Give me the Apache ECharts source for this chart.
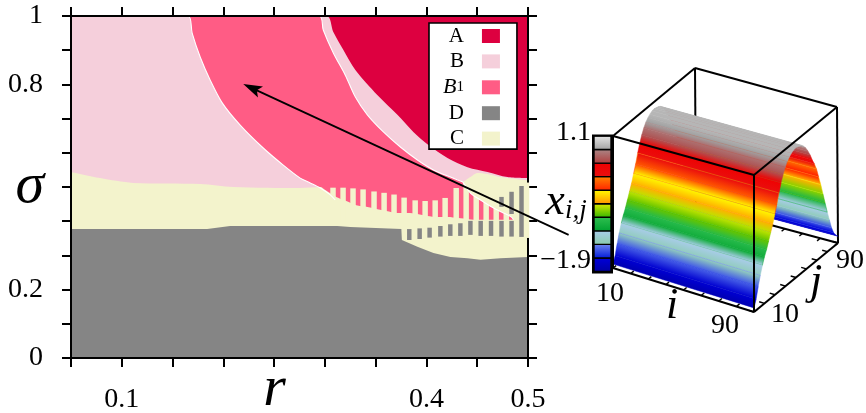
<!DOCTYPE html>
<html>
<head>
<meta charset="utf-8">
<style>
  html, body { margin: 0; padding: 0; background: #fff; }
  #chart { width: 866px; height: 413px; }
</style>
<script src="https://cdn.jsdelivr.net/npm/echarts@6/dist/echarts.min.js"></script>
</head>
<body>
<div id="chart"></div>
<script>
// == Phase diagram data (sigma against r) ====================================

const rTicks = [0.1, 0.4, 0.5]
const sigmaTicks = [0, 0.2, 0.8, 1]

const abR = [0.05, 0.3014, 0.3083, 0.3181, 0.33, 0.3516, 0.3714, 0.3871, 0.4019, 0.4207, 0.4404, 0.4601, 0.4798, 0.5]
const abSigma = [1, 1, 0.953, 0.901, 0.842, 0.769, 0.711, 0.661, 0.623, 0.585, 0.558, 0.544, 0.529, 0.526]

const b1TopR = [0.05, 0.2945, 0.2984, 0.3083, 0.3201, 0.33, 0.3418, 0.3576, 0.3743, 0.3911, 0.4069, 0.4236, 0.4354, 0.4364, 0.4433, 0.4532, 0.463, 0.4739, 0.4837, 0.4857]
const b1TopSigma = [1, 1, 0.959, 0.892, 0.827, 0.763, 0.711, 0.661, 0.617, 0.579, 0.55, 0.529, 0.515, 0.512, 0.482, 0.462, 0.444, 0.427, 0.412, 0.404]

const bLeftR = [0.05, 0.1653, 0.1693, 0.1772, 0.187, 0.1989, 0.2166, 0.2393, 0.259, 0.2757, 0.2856, 0.2955, 0.3053, 0.3102]
const bLeftSigma = [1, 1, 0.95, 0.88, 0.813, 0.746, 0.681, 0.614, 0.564, 0.526, 0.512, 0.497, 0.477, 0.462]

const cTopR = [0.05, 0.0786, 0.1111, 0.1772, 0.2097, 0.2757, 0.2955, 0.3004, 0.3112, 0.3211, 0.3309, 0.3408, 0.3507, 0.3605, 0.3714, 0.3812, 0.3911, 0.4009, 0.4108, 0.4207, 0.4315, 0.4414, 0.4512, 0.4719, 0.4857, 0.5]
const cTopSigma = [0.544, 0.526, 0.512, 0.509, 0.5, 0.497, 0.5, 0.491, 0.471, 0.459, 0.447, 0.442, 0.436, 0.43, 0.424, 0.424, 0.421, 0.415, 0.412, 0.412, 0.409, 0.406, 0.404, 0.404, 0.404, 0.404]

const cBlobR = [0.4364, 0.4433, 0.4502, 0.4601, 0.4729, 0.4897, 0.5]
const cBlobSigma = [0.515, 0.529, 0.541, 0.538, 0.529, 0.523, 0.52]

const dTopR = [0.05, 0.1841, 0.2067, 0.3122, 0.325, 0.3753, 0.3758, 0.3911, 0.4069, 0.4236, 0.4404, 0.4532, 0.4729, 0.5]
const dTopSigma = [0.377, 0.377, 0.386, 0.386, 0.383, 0.377, 0.345, 0.325, 0.307, 0.295, 0.292, 0.287, 0.292, 0.295]

// striped coexistence zone
const creamStripeR = [0.3053, 0.3152, 0.325, 0.3349, 0.3457, 0.3556, 0.3654, 0.3753, 0.3862, 0.396, 0.4059, 0.4157, 0.4266, 0.4364, 0.4463, 0.4561, 0.466, 0.4759, 0.4857]
const creamStripeTop = [0.498, 0.498, 0.496, 0.493, 0.487, 0.483, 0.478, 0.469, 0.461, 0.459, 0.461, 0.468, 0.497, 0.512, 0.515, 0.515, 0.515, 0.515, 0.515]
const creamStripeBottom = 0.398

const grayStripeR = [0.3809, 0.3911, 0.4009, 0.4115, 0.4213, 0.4312, 0.4411, 0.4512, 0.4614, 0.4717, 0.4816, 0.4717, 0.4816, 0.4914]
const grayStripeTop = [0.377, 0.379, 0.381, 0.386, 0.391, 0.394, 0.401, 0.401, 0.401, 0.401, 0.401, 0.471, 0.486, 0.503]
const grayStripeBottom = [0.345, 0.348, 0.352, 0.355, 0.357, 0.357, 0.36, 0.357, 0.357, 0.355, 0.355, 0.442, 0.421, 0.354]

// cream runs over the right frame line here
const frameGapR = [0.4988]
const frameGapTop = [0.513]
const frameGapBottom = [0.351]

const arrowR = [0.54, 0.2196]
const arrowSigma = [0.36, 0.801]

// == Surface data (x_ij against j, flat along i) =============================

const surfaceJ = [10, 12, 14, 16, 18, 20, 22, 24, 26, 28, 30, 32, 34, 36, 38, 40, 42, 44, 46, 48, 50, 52, 54, 56, 58, 60, 62, 64, 66, 68, 70, 72, 74, 76, 78, 80, 82, 84, 86, 88, 90]
const surfaceX = [-1.81, -1.66, -1.42, -1.21, -1.03, -0.88, -0.76, -0.61, -0.46, -0.31, -0.13, 0.05, 0.26, 0.44, 0.59, 0.71, 0.8, 0.86, 0.905, 0.935, 0.95, 0.935, 0.92, 0.89, 0.83, 0.755, 0.65, 0.53, 0.38, 0.26, 0.11, -0.1, -0.31, -0.55, -0.79, -1.03, -1.24, -1.45, -1.6, -1.69, -1.75]
const cubeTicks = [10, 20, 30, 40, 50, 60, 70, 80, 90]

// colour bar segments, bottom to top, each with its bottom and top colour
const barBottom = ['#0000a0', '#0018d8', '#88ccaa', '#00a030', '#30b400', '#ff9000', '#ff2000', '#e81010', '#b03c3c', '#a0a0a0']
const barTop = ['#0000dd', '#7088f0', '#aaccee', '#30c050', '#e0ee00', '#ffff00', '#ff8800', '#f00000', '#aa8888', '#e8e8e8']

// == Layout and colours ======================================================

const COLORS = {A: '#dd0040', B: '#f5cfdb', B1: '#ff5c85', D: '#858585', C: '#f3f3cc'}
const SERIF = '"Liberation Serif", serif'
const CREAM_WIDTH = 0.0054
const GRAY_WIDTH = 0.0044

// screen position of the cube corners [i, j, x] -> pixel
const CUBE = {
  low: [[[613, 268], [696, 205]], [[754, 312], [838, 243]]],
  high: [[[613, 136], [695, 68]], [[754, 175], [837, 107]]]
}

function zip (xs, ys) {
  return xs.map((x, n) => [x, ys[n]])
}

function mix (p, q, t) {
  return [p[0] + (q[0] - p[0]) * t, p[1] + (q[1] - p[1]) * t]
}

function project (i, j, x) {
  const a = (i - 10) / 80
  const b = (j - 10) / 80
  const c = (x + 1.9) / 3
  const low = mix(mix(CUBE.low[0][0], CUBE.low[0][1], b), mix(CUBE.low[1][0], CUBE.low[1][1], b), a)
  const high = mix(mix(CUBE.high[0][0], CUBE.high[0][1], b), mix(CUBE.high[1][0], CUBE.high[1][1], b), a)
  return mix(low, high, c)
}

function rgb (hex) {
  return [1, 3, 5].map(n => parseInt(hex.substr(n, 2), 16))
}

// surface never gets to the light end of the bar
function paletteColor (x) {
  const t = Math.min(9.3, Math.max(0, (x + 1.9) / 3) * barTop.length)
  const seg = Math.floor(t)
  const lo = rgb(barBottom[seg])
  const hi = rgb(barTop[seg])
  const f = t - seg
  return 'rgb(' + lo.map((v, n) => Math.round(v + (hi[n] - v) * f)).join(',') + ')'
}

function areaSeries (name, xs, ys, color, edge, smooth) {
  return {
    type: 'line',
    name,
    data: zip(xs, ys),
    showSymbol: false,
    symbol: 'none',
    smooth: smooth === false ? false : 0.3,
    smoothMonotone: 'none',
    itemStyle: {color},
    areaStyle: {color, opacity: 1, origin: 'start'},
    lineStyle: edge ? {color: '#fff', width: 1.1} : {width: 0},
    silent: true,
    z: 2
  }
}

function stripeSeries (name, rs, tops, bottoms, width, color, z) {
  return {
    type: 'custom',
    name,
    silent: true,
    z: z || 2,
    data: rs.map((r, n) => [r, tops[n], Array.isArray(bottoms) ? bottoms[n] : bottoms]),
    encode: {x: 0, y: [1, 2]},
    renderItem (params, api) {
      const p = api.coord([api.value(0), api.value(1)])
      const q = api.coord([api.value(0) + width, api.value(2)])
      return {type: 'rect', shape: {x: p[0], y: p[1], width: q[0] - p[0], height: q[1] - p[1]}, style: {fill: color}}
    }
  }
}

// arrow, runs past the right edge of the plot
const arrowSeries = {
  type: 'custom',
  silent: true,
  z: 6,
  data: [[arrowR[0], arrowSigma[0], arrowR[1], arrowSigma[1]]],
  encode: {x: [0, 2], y: [1, 3]},
  renderItem (params, api) {
    const tail = api.coord([api.value(0), api.value(1)])
    const tip = api.coord([api.value(2), api.value(3)])
    const len = Math.hypot(tail[0] - tip[0], tail[1] - tip[1])
    const ux = (tail[0] - tip[0]) / len
    const uy = (tail[1] - tip[1]) / len
    return {
      type: 'group',
      children: [
        {type: 'line', shape: {x1: tail[0], y1: tail[1], x2: tip[0] + ux * 12, y2: tip[1] + uy * 12}, style: {stroke: '#000', lineWidth: 1.8}},
        {type: 'polygon', shape: {points: [
          tip,
          [tip[0] + ux * 19 - uy * 6, tip[1] + uy * 19 + ux * 6],
          [tip[0] + ux * 15, tip[1] + uy * 15],
          [tip[0] + ux * 19 + uy * 6, tip[1] + uy * 19 - ux * 6]
        ]}, style: {fill: '#000'}}
      ]
    }
  }
}

// == 3D inset ================================================================

function cubeEdge (api, a, b, width) {
  const p = api.coord(a)
  const q = api.coord(b)
  return {type: 'line', shape: {x1: p[0], y1: p[1], x2: q[0], y2: q[1]}, style: {stroke: '#000', lineWidth: width || 2}}
}

function label (api, pos, text, size, italic, align) {
  const p = api.coord(pos)
  return {
    type: 'text',
    z2: 20,
    style: {
      text, x: p[0], y: p[1], fill: '#000',
      font: (italic ? 'italic ' : '') + size + 'px ' + SERIF,
      textAlign: align || 'center', textVerticalAlign: 'middle'
    }
  }
}

// one surface strip, shaded across its width
function surfaceStrip (api, j0, x0, j1, x1) {
  const a = api.coord(project(10, j0, x0))
  const b = api.coord(project(90, j0, x0))
  const c = api.coord(project(90, j1, x1))
  const d = api.coord(project(10, j1, x1))
  const ex = b[0] - a[0]
  const ey = b[1] - a[1]
  const el = Math.hypot(ex, ey)
  const nx = -ey / el
  const ny = ex / el
  const depth = (d[0] - a[0]) * nx + (d[1] - a[1]) * ny
  const c0 = paletteColor(x0)
  const c1 = paletteColor(x1)
  return {
    type: 'polygon',
    shape: {points: [a, b, c, d]},
    style: {
      fill: new echarts.graphic.LinearGradient(a[0], a[1], a[0] + nx * depth, a[1] + ny * depth, [{offset: 0, color: c0}, {offset: 1, color: c1}], true),
      stroke: paletteColor((x0 + x1) / 2),
      lineWidth: 0.5
    }
  }
}

const insetSeries = {
  type: 'custom',
  silent: true,
  xAxisIndex: 2,
  yAxisIndex: 2,
  z: 5,
  data: surfaceJ.map((j, n) => [j, surfaceX[n]]),
  encode: {x: 0, y: 1},
  renderItem (params, api) {
    if (params.dataIndex !== 0) return null
    const children = []
    const edge = (a, b, width) => children.push(cubeEdge(api, project(...a), project(...b), width))

    // back of the box goes under the surface
    edge([10, 90, 1.1], [90, 90, 1.1])
    edge([10, 90, -1.9], [10, 90, 1.1])
    edge([90, 90, -1.9], [90, 90, 1.1])
    edge([10, 90, -1.9], [90, 90, -1.9])
    cubeTicks.forEach(t => {
      edge([t, 90, -1.9], [t, 87, -1.9], 1.5)
    })

    // surface strips, far side first
    for (let n = surfaceJ.length - 2; n >= 0; n--) {
      children.push(surfaceStrip(api, surfaceJ[n], surfaceX[n], surfaceJ[n + 1], surfaceX[n + 1]))
    }

    // front of the box
    edge([10, 10, 1.1], [90, 10, 1.1])
    edge([10, 10, 1.1], [10, 90, 1.1])
    edge([90, 10, 1.1], [90, 90, 1.1])
    edge([90, 10, -1.9], [90, 10, 1.1])
    edge([10, 10, -1.9], [90, 10, -1.9])
    edge([90, 10, -1.9], [90, 90, -1.9])
    cubeTicks.forEach(t => {
      edge([t, 10, -1.9], [t, 13, -1.9], 1.5)
      edge([90, t, -1.9], [87, t, -1.9], 1.5)
    })

    // colour bar, one gradient box per segment
    const barX = [594, 611]
    const segH = (271.5 - 136) / barTop.length
    barTop.forEach((top, n) => {
      const yBottom = 271.5 - n * segH
      const a = api.coord([barX[0], yBottom - segH])
      const b = api.coord([barX[1], yBottom])
      children.push({
        type: 'rect',
        shape: {x: a[0], y: a[1], width: b[0] - a[0], height: b[1] - a[1]},
        style: {
          fill: new echarts.graphic.LinearGradient(0, 0, 0, 1, [{offset: 0, color: top}, {offset: 1, color: barBottom[n]}]),
          stroke: '#000',
          lineWidth: 1.4
        }
      })
    })
    const c0 = api.coord([barX[0] - 1, 135.5])
    const c1 = api.coord([barX[1] + 1, 272.5])
    children.push({
      type: 'rect',
      shape: {x: c0[0], y: c0[1], width: c1[0] - c0[0], height: c1[1] - c0[1]},
      style: {fill: 'none', stroke: '#000', lineWidth: 2}
    })
    edge([10, 10, -1.9], [10, 10, 1.1])

    // labels
    children.push(label(api, [591, 133], '1.1', 28, false, 'right'))
    children.push(label(api, [591, 261], '\u22121.9', 28, false, 'right'))
    children.push(label(api, [610, 294], '10', 28))
    children.push(label(api, [725, 326], '90', 28))
    children.push(label(api, [785, 315], '10', 28))
    children.push(label(api, [850, 261], '90', 28))
    children.push(label(api, [672, 306], 'i', 44, true))
    children.push(label(api, [816, 282], 'j', 44, true))

    const xl = api.coord([566, 202])
    children.push({
      type: 'text',
      z2: 20,
      style: {
        text: '{x|x}{s|i,j}',
        x: xl[0],
        y: xl[1],
        textAlign: 'center',
        textVerticalAlign: 'middle',
        rich: {
          x: {font: 'italic 44px ' + SERIF, fill: '#000'},
          s: {font: 'italic 27px ' + SERIF, fill: '#000', verticalAlign: 'bottom', padding: [12, 0, 0, 0]}
        }
      }
    })

    return {type: 'group', children}
  }
}

// == Chart ===================================================================

function tickLabel (list) {
  return value => {
    const hit = list.find(v => Math.abs(v - value) < 1e-6)
    return hit === undefined ? '' : String(hit)
  }
}

const axisBase = {
  type: 'value',
  z: 3,
  axisLine: {show: true, onZero: false, lineStyle: {color: '#000', width: 2}},
  axisTick: {show: true, length: 9, lineStyle: {color: '#000', width: 2}},
  splitLine: {show: false}
}

const rAxis = {...axisBase, min: 0.05, max: 0.5, interval: 0.05}
const sigmaAxis = {...axisBase, min: 0, max: 1, interval: 0.1}
const labelStyle = {color: '#000', fontFamily: SERIF, fontSize: 28, showMinLabel: true, showMaxLabel: true}

const legendText = {padding: [0, 13, 0, 0], height: 20, lineHeight: 20, fontFamily: SERIF, fontSize: 21, color: '#000'}

const option = {
  animation: false,
  backgroundColor: '#fff',
  grid: [
    {left: 71, top: 16, width: 457, height: 342, outerBoundsMode: 'none'},
    {left: 590, top: 60, width: 260, height: 280, outerBoundsMode: 'none'}
  ],
  xAxis: [
    {
      ...rAxis,
      gridIndex: 0,
      position: 'bottom',
      axisLabel: {...labelStyle, margin: 28, formatter: tickLabel(rTicks)},
      name: 'r',
      nameLocation: 'middle',
      nameGap: 3,
      nameMoveOverlap: false,
      nameTextStyle: {fontFamily: SERIF, fontStyle: 'italic', fontSize: 58, color: '#000', padding: [0, 50, 0, 0]}
    },
    {...rAxis, gridIndex: 0, position: 'top', axisLabel: {show: false}},
    {type: 'value', gridIndex: 1, min: 590, max: 850, show: false}
  ],
  yAxis: [
    {
      ...sigmaAxis,
      gridIndex: 0,
      position: 'left',
      axisLabel: {...labelStyle, margin: 28, formatter: tickLabel(sigmaTicks)},
      name: '\u03c3',
      nameLocation: 'middle',
      nameGap: 27,
      nameRotate: 0,
      nameMoveOverlap: false,
      nameTextStyle: {fontFamily: SERIF, fontStyle: 'italic', fontSize: 58, color: '#000', padding: [0, 0, 30, 0]}
    },
    {...sigmaAxis, gridIndex: 0, position: 'right', axisLabel: {show: false}},
    {type: 'value', gridIndex: 1, min: 60, max: 340, inverse: true, show: false}
  ],
  legend: {
    left: 429,
    top: 23,
    orient: 'vertical',
    align: 'right',
    padding: [2.5, 17, 0, 14],
    itemGap: 4.4,
    itemWidth: 18,
    itemHeight: 14,
    backgroundColor: '#fff',
    borderColor: '#000',
    borderWidth: 1.6,
    selectedMode: false,
    icon: 'rect',
    formatter: name => (name === 'B1' ? '{b|B}{s|1}' : '{t|' + name + '}'),
    textStyle: {
      fontFamily: SERIF,
      fontSize: 21,
      color: '#000',
      rich: {
        t: legendText,
        b: {...legendText, padding: 0, fontStyle: 'italic', fontSize: 22},
        s: {...legendText, fontSize: 15, verticalAlign: 'bottom'}
      }
    },
    data: [
      {name: 'A', itemStyle: {color: COLORS.A, borderWidth: 0}},
      {name: 'B', itemStyle: {color: COLORS.B, borderWidth: 0}},
      {name: 'B1', itemStyle: {color: COLORS.B1, borderWidth: 0}},
      {name: 'D', itemStyle: {color: COLORS.D, borderWidth: 0}},
      {name: 'C', itemStyle: {color: COLORS.C, borderWidth: 0}}
    ]
  },
  series: [
    areaSeries('A', [0.05, 0.5], [1, 1], COLORS.A),
    areaSeries('B', abR, abSigma, COLORS.B),
    areaSeries('C', cBlobR, cBlobSigma, COLORS.C),
    areaSeries('B1', b1TopR, b1TopSigma, COLORS.B1, true),
    areaSeries('B', bLeftR, bLeftSigma, COLORS.B, true),
    areaSeries('C', cTopR, cTopSigma, COLORS.C),
    areaSeries('D', dTopR, dTopSigma, COLORS.D, false, false),
    stripeSeries('C', creamStripeR, creamStripeTop, creamStripeBottom, CREAM_WIDTH, COLORS.C),
    stripeSeries('D', grayStripeR, grayStripeTop, grayStripeBottom, GRAY_WIDTH, COLORS.D),
    stripeSeries('C', frameGapR, frameGapTop, frameGapBottom, 0.0024, COLORS.C, 4),
    arrowSeries,
    insetSeries
  ]
}

echarts.init(document.getElementById('chart')).setOption(option)
</script>
</body>
</html>
